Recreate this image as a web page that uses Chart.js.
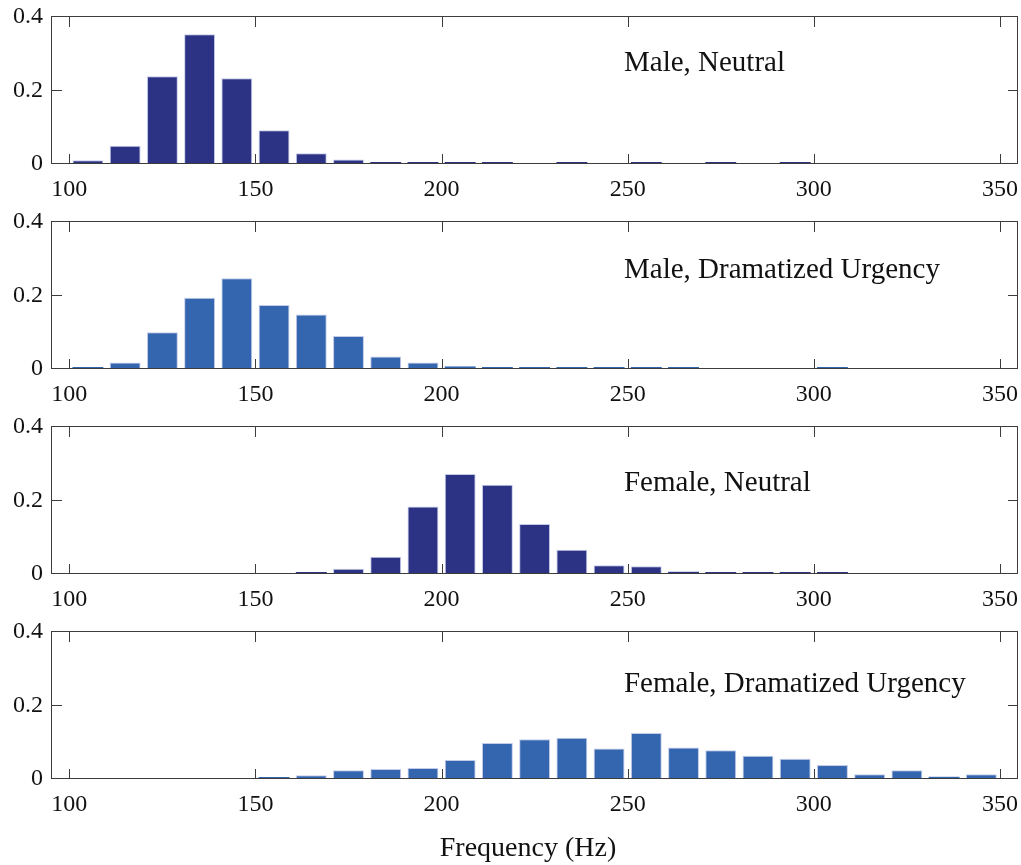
<!DOCTYPE html>
<html>
<head>
<meta charset="utf-8">
<script src="https://cdn.jsdelivr.net/npm/chart.js@4.4.1/dist/chart.umd.min.js"></script>
<style>
  html, body { margin: 0; padding: 0; background: #fff; }
  #wrap { position: relative; width: 1021px; height: 865px; overflow: hidden; }
  #wrap canvas { position: absolute; left: 0; }
</style>
</head>
<body>
<div id="wrap">
  <canvas id="p0" width="1021" height="205" style="top:0px"></canvas>
  <canvas id="p1" width="1021" height="205" style="top:205px"></canvas>
  <canvas id="p2" width="1021" height="205" style="top:410px"></canvas>
  <canvas id="p3" width="1021" height="250" style="top:615px"></canvas>
</div>
<script>
// Histogram bins (centre of each 10 Hz bin)
const binCenters = [105, 115, 125, 135, 145, 155, 165, 175, 185, 195, 205, 215, 225,
                    235, 245, 255, 265, 275, 285, 295, 305, 315, 325, 335, 345];

// Relative frequency of pitch values per bin
const maleNeutral   = [0.010, 0.050, 0.239, 0.353, 0.233, 0.092, 0.029, 0.012, 0.004, 0.004, 0.004, 0.004, 0,
                       0.004, 0, 0.004, 0, 0.004, 0, 0.004, 0, 0, 0, 0, 0];
const maleUrgent    = [0.0045, 0.018, 0.100, 0.194, 0.247, 0.174, 0.148, 0.090, 0.034, 0.018, 0.007, 0.004, 0.004,
                       0.004, 0.004, 0.004, 0.004, 0, 0, 0, 0.004, 0, 0, 0, 0];
const femaleNeutral = [0, 0, 0, 0, 0, 0, 0.004, 0.014, 0.047, 0.184, 0.272, 0.243, 0.136,
                       0.066, 0.024, 0.021, 0.006, 0.004, 0.004, 0.004, 0.004, 0, 0, 0, 0];
const femaleUrgent  = [0, 0, 0, 0, 0, 0.004, 0.010, 0.024, 0.027, 0.030, 0.052, 0.098, 0.108,
                       0.112, 0.083, 0.125, 0.086, 0.078, 0.063, 0.055, 0.038, 0.013, 0.024, 0.006, 0.013];

const panelTitles = ['Male, Neutral', 'Male, Dramatized Urgency', 'Female, Neutral', 'Female, Dramatized Urgency'];
const xTickValues = [100, 150, 200, 250, 300, 350];
const yTickValues = [0, 0.2, 0.4];
const xAxisTitle = 'Frequency (Hz)';

const FONT = '"Liberation Serif", "Times New Roman", serif';
const NAVY = '#2c3385';
const BLUE = '#3466b0';

Chart.defaults.font.family = FONT;
Chart.defaults.color = '#111';
Chart.defaults.animation = false;

// Box frame, inward tick marks and the in-panel caption
const framePlugin = {
  id: 'frame',
  afterDatasetsDraw(chart, args, opts) {
    const { ctx, chartArea: a, scales: { x, y } } = chart;
    ctx.save();
    ctx.strokeStyle = '#3c3c3c';
    ctx.lineWidth = 1;
    ctx.strokeRect(a.left - 0.5, a.top - 0.5, a.right - a.left, a.bottom - a.top);
    const tl = 10;
    ctx.beginPath();
    xTickValues.forEach(v => {
      const px = Math.round(x.getPixelForValue(v)) + 0.5;
      ctx.moveTo(px, a.bottom); ctx.lineTo(px, a.bottom - tl);
      ctx.moveTo(px, a.top); ctx.lineTo(px, a.top + tl);
    });
    yTickValues.forEach(v => {
      const py = Math.round(y.getPixelForValue(v)) - 0.5;
      ctx.moveTo(a.left, py); ctx.lineTo(a.left + tl, py);
      ctx.moveTo(a.right, py); ctx.lineTo(a.right - tl, py);
    });
    ctx.stroke();

    ctx.fillStyle = '#111';
    ctx.font = '29px ' + FONT;
    ctx.textAlign = 'left';
    ctx.textBaseline = 'alphabetic';
    ctx.fillText(opts.caption, x.getPixelForValue(opts.captionAt[0]), y.getPixelForValue(opts.captionAt[1]));

    if (opts.axisTitle) {
      ctx.textAlign = 'center';
      ctx.font = '28px ' + FONT;
      ctx.fillText(opts.axisTitle, (a.left + a.right) / 2 - 7, chart.height - 9);
    }
    ctx.restore();
  }
};

function makePanel(id, values, color, caption, captionAt, isLast) {
  // empty bins are left out; tiny non-empty bins stay visible through minBarLength
  const points = binCenters.map((c, i) => ({ x: c, y: values[i] > 0 ? values[i] : null }));
  return new Chart(document.getElementById(id), {
    type: 'bar',
    data: {
      datasets: [{
        data: points,
        backgroundColor: color,
        borderColor: 'rgba(190,196,232,0.9)',
        borderWidth: ctx => (ctx.raw && ctx.raw.y >= 0.01 ? 1 : 0),
        borderSkipped: 'bottom',
        minBarLength: 2,
        barPercentage: 0.83,
        categoryPercentage: 1.0
      }]
    },
    options: {
      responsive: false,
      devicePixelRatio: 1,
      layout: { padding: { top: 17, right: 3, left: 0, bottom: 0 } },
      plugins: {
        legend: { display: false },
        tooltip: { enabled: false },
        frame: { caption: caption, captionAt: captionAt, axisTitle: isLast ? xAxisTitle : null }
      },
      scales: {
        x: {
          type: 'linear',
          min: 95.35,
          max: 354.85,
          offset: false,
          grid: { display: false, drawTicks: false },
          border: { display: false },
          afterBuildTicks: s => { s.ticks = xTickValues.map(v => ({ value: v })); },
          afterFit: s => {
            s.height = isLast ? 86 : 41;
            s.paddingLeft = 0; s.paddingRight = 0;
          },
          ticks: { padding: 11, font: { size: 24 }, color: '#111', maxRotation: 0,
                   callback: v => String(v) }
        },
        y: {
          min: 0,
          max: 0.4,
          grid: { display: false, drawTicks: false },
          border: { display: false },
          afterBuildTicks: s => { s.ticks = yTickValues.map(v => ({ value: v })); },
          afterFit: s => {
            s.width = 52;
            s.paddingTop = 0; s.paddingBottom = 0;
          },
          ticks: { padding: 9, font: { size: 24 }, color: '#111',
                   callback: v => (v === 0 ? '0' : v.toFixed(1)) }
        }
      }
    },
    plugins: [framePlugin]
  });
}

makePanel('p0', maleNeutral,   NAVY, panelTitles[0], [249, 0.252], false);
makePanel('p1', maleUrgent,    BLUE, panelTitles[1], [249, 0.248], false);
makePanel('p2', femaleNeutral, NAVY, panelTitles[2], [249, 0.226], false);
makePanel('p3', femaleUrgent,  BLUE, panelTitles[3], [249, 0.237], true);
</script>
</body>
</html>
